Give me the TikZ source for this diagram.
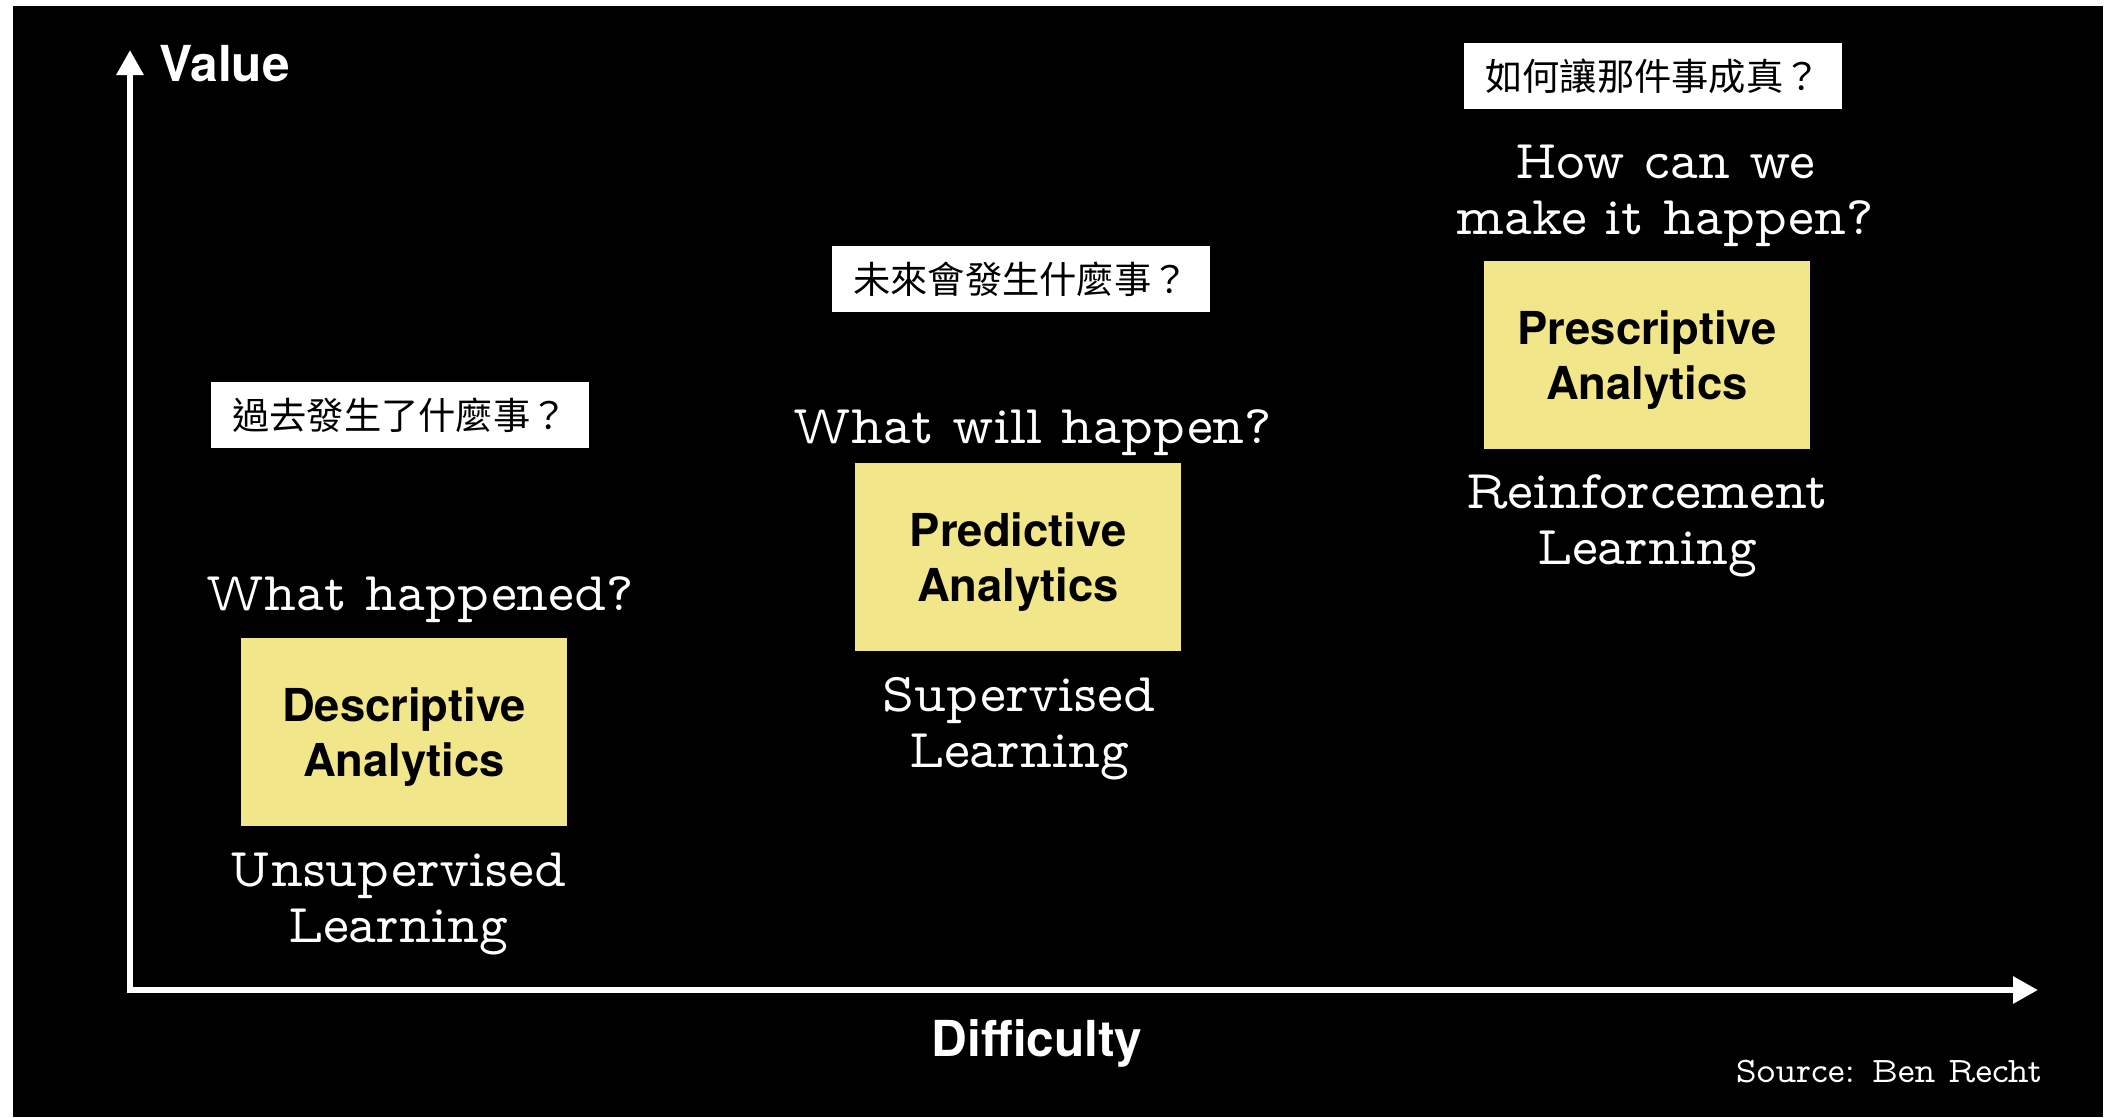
\documentclass[tikz,border=0pt]{standalone}
\usepackage{fontspec}
\usepackage{tikz}
\usetikzlibrary{arrows.meta}
\setsansfont{TeX Gyre Heros}
\newfontfamily\typew{lmmonoprop10-regular.otf}
\newfontfamily\cjk{Noto Sans CJK TC}
\definecolor{khaki}{HTML}{F2E68A}
\tikzset{>=stealth}
\tikzstyle{analytics} = [rectangle, fill = khaki, text = black, align = center, text depth = 0pt, minimum width = 3.26cm, minimum height = 1.87cm, font = \sffamily\bfseries\fontsize{12.9pt}{15.5pt}\selectfont]
\tikzstyle{question} = [text = white, anchor = base, align = center, inner sep = 0, font = \typew\fontsize{15.6pt}{15.9pt}\selectfont]
\tikzstyle{cjkbox} = [rectangle, fill = white, text = black, minimum width = 3.78cm, minimum height = 0.65cm, font = \cjk\fontsize{10.6pt}{12pt}\selectfont]
\tikzstyle{axislabel} = [text = white, anchor = base, inner sep = 0, font = \sffamily\bfseries\fontsize{14.1pt}{16pt}\selectfont]

\begin{document}
\begin{tikzpicture}[x = 0.01cm, y = -0.01cm]
    \fill [white] (0,0) rectangle (2111,1117);
    \fill [black] (13,6) rectangle (2103,1117);

    % axes
    \coordinate (origin) at (130,990);
    \coordinate (valueTip) at (130,50);
    \coordinate (diffTip) at (2038,990);
    \draw [{Triangle[length=0.25cm, width=0.26cm]}-{Triangle[length=0.25cm, width=0.26cm]}, white, line width = 0.06cm, line join = miter] (valueTip) -- (origin) -- (diffTip);
    \node (valueLabel) [axislabel, anchor = base west] at (159,81) {Value};
    \node (diffLabel) [axislabel] at (1037,1056) {Difficulty};

    % analytics boxes
    \node (descBox) [analytics] at (404,732) {Descriptive\\Analytics};
    \node (predBox) [analytics] at (1018,557) {Predictive\\Analytics};
    \node (prescBox) [analytics] at (1647,355) {Prescriptive\\Analytics};

    % questions (base = last line)
    \node (descQ) [question] at (420,610) {What happened?};
    \node (predQ) [question] at (1033,443) {What will happen?};
    \node (prescQ) [question] at (1665,234) {How can we\\make it happen?};
    \node (descCjk) [cjkbox] at (400,415) {過去發生了什麼事？};
    \node (predCjk) [cjkbox] at (1021,279) {未來會發生什麼事？};
    \node (prescCjk) [cjkbox] at (1653,76) {如何讓那件事成真？};

    % methods
    \node (descMethod) [question] at (398,942) {Unsupervised\\Learning};
    \node (predMethod) [question] at (1019,767) {Supervised\\Learning};
    \node (prescMethod) [question] at (1647,564) {Reinforcement\\Learning};

    \node (source) [question, anchor = base east, font = \typew\fontsize{10.2pt}{12pt}\selectfont] at (2043,1082) {Source: Ben Recht};
\end{tikzpicture}
\end{document}
